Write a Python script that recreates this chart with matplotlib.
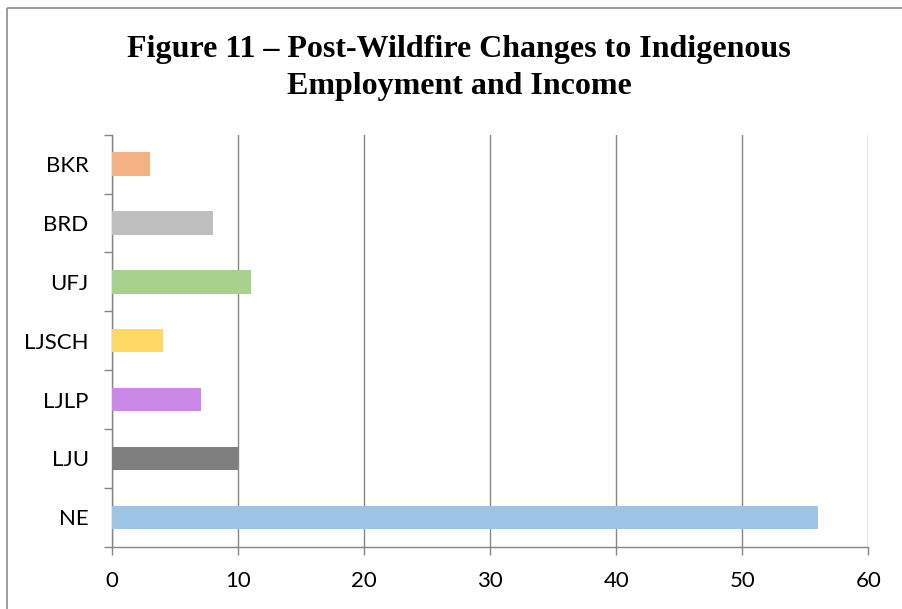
import matplotlib
matplotlib.use("Agg")
import matplotlib.pyplot as plt
from matplotlib.lines import Line2D
from matplotlib.ticker import FixedLocator

# bottom-to-top order of the bars
categories = ["NE", "LJU", "LJLP", "LJSCH", "UFJ", "BRD", "BKR"]
values = [56, 10, 7, 4, 11, 8, 3]
colors = ["#9DC3E6", "#7F7F7F", "#CC88E6", "#FFD966", "#A9D18E", "#BFBFBF", "#F4B183"]
x_ticks = [0, 10, 20, 30, 40, 50, 60]
title_lines = ["Figure 11 \u2013 Post-Wildfire Changes to Indigenous", "Employment and Income"]

W, H = 902, 609
fig = plt.figure(figsize=(W / 100, H / 100), dpi=100)
fig.patch.set_facecolor("white")

# chart frame (only top and left edges fall inside the canvas)
fx, fy = 7.5 / W, 1 - 7.5 / H
fig.lines.append(Line2D([fx, 1.0], [fy, fy], transform=fig.transFigure, color="#8C8C8C",
                        linewidth=1.2, solid_capstyle="butt"))
fig.lines.append(Line2D([fx, fx], [0.0, fy], transform=fig.transFigure, color="#8C8C8C",
                        linewidth=1.2, solid_capstyle="butt"))

left, right = 112.3 / W, 868.3 / W
bottom, top = (H - 546.7) / H, (H - 134.7) / H
ax = fig.add_axes([left, bottom, right - left, top - bottom])

ypos = list(range(len(categories)))
ax.barh(ypos, values, height=0.4, color=colors, zorder=3)

ax.set_xlim(0, 60)
ax.set_ylim(-0.5, len(categories) - 0.5)
ax.xaxis.set_major_locator(FixedLocator(x_ticks))
ax.set_yticks(ypos)
ax.set_yticklabels(categories)
ax.yaxis.set_minor_locator(FixedLocator([i - 0.5 for i in range(len(categories) + 1)]))

ax.grid(axis="x", color="#868686", linewidth=1.0, zorder=0)
for s in ["top", "right"]:
    ax.spines[s].set_visible(False)
for s in ["left", "bottom"]:
    ax.spines[s].set_color("#868686")
    ax.spines[s].set_linewidth(1.0)

for t in ax.get_yticklabels() + ax.get_xticklabels():
    t.set_fontfamily("Lato")
    t.set_fontsize(16)

ax.tick_params(axis="y", which="major", length=0, pad=17)
ax.tick_params(axis="y", which="minor", length=5.5, color="#868686", width=1.0)
ax.tick_params(axis="x", which="major", length=5.5, color="#868686", width=1.0, pad=12)

for line, base in zip(title_lines, [57, 94]):
    fig.text(459 / W, 1 - base / H, line, ha="center", va="baseline",
             family="Liberation Serif", weight="bold", fontsize=23)

fig.savefig("out.png", dpi=100)
